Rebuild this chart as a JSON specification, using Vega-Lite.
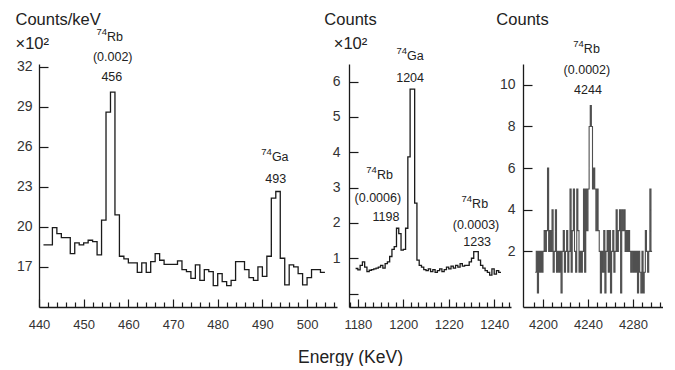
{
  "$schema": "https://vega.github.io/schema/vega-lite/v6.json",
  "autosize": {"type": "pad"},
  "padding": {"left": 15, "top": 11, "right": 0, "bottom": 0},
  "background": "white",
  "spacing": 12,
  "bounds": "flush",
  "config": {
    "view": {"stroke": null},
    "font": "Liberation Sans",
    "axis": {"grid": false, "domainColor": "#1a1a1a", "tickColor": "#1a1a1a", "domainWidth": 1.3, "tickWidth": 1.2, "labelColor": "#333", "labelFont": "Liberation Sans", "titleFont": "Liberation Sans", "titleColor": "#222", "titleFontWeight": "normal", "labelFlush": false}
  },
  "datasets": {
    "p1": [
      {"E": 441, "v": 18.65}, {"E": 442, "v": 18.65}, {"E": 443, "v": 19.95}, {"E": 444, "v": 19.5}, {"E": 445, "v": 19.2}, {"E": 446, "v": 19.2}, {"E": 447, "v": 18.0}, {"E": 448, "v": 18.8}, {"E": 449, "v": 18.65}, {"E": 450, "v": 18.8}, {"E": 451, "v": 19.0}, {"E": 452, "v": 18.9}, {"E": 453, "v": 17.9}, {"E": 454, "v": 20.5}, {"E": 455, "v": 28.6}, {"E": 456, "v": 30.1}, {"E": 457, "v": 20.9}, {"E": 458, "v": 17.8}, {"E": 459, "v": 17.6}, {"E": 460, "v": 17.3}, {"E": 461, "v": 17.3}, {"E": 462, "v": 16.6}, {"E": 463, "v": 17.3}, {"E": 464, "v": 16.6}, {"E": 465, "v": 17.4}, {"E": 466, "v": 18.0}, {"E": 467, "v": 17.5}, {"E": 468, "v": 17.2}, {"E": 469, "v": 17.2}, {"E": 470, "v": 17.2}, {"E": 471, "v": 17.45}, {"E": 472, "v": 16.8}, {"E": 473, "v": 16.65}, {"E": 474, "v": 16.15}, {"E": 475, "v": 17.15}, {"E": 476, "v": 16.0}, {"E": 477, "v": 16.8}, {"E": 478, "v": 16.65}, {"E": 479, "v": 15.6}, {"E": 480, "v": 16.5}, {"E": 481, "v": 15.9}, {"E": 482, "v": 15.6}, {"E": 483, "v": 16.0}, {"E": 484, "v": 17.4}, {"E": 485, "v": 17.4}, {"E": 486, "v": 16.8}, {"E": 487, "v": 16.2}, {"E": 488, "v": 16.0}, {"E": 489, "v": 17.0}, {"E": 490, "v": 16.3}, {"E": 491, "v": 17.8}, {"E": 492, "v": 22.15}, {"E": 493, "v": 22.65}, {"E": 494, "v": 17.65}, {"E": 495, "v": 15.65}, {"E": 496, "v": 17.15}, {"E": 497, "v": 17.0}, {"E": 498, "v": 16.5}, {"E": 499, "v": 15.65}, {"E": 500, "v": 16.2}, {"E": 501, "v": 16.8}, {"E": 502, "v": 16.8}, {"E": 503, "v": 16.6}, {"E": 504, "v": 16.6}
    ],
    "p2": [
      {"E": 1179, "v": 0.71}, {"E": 1180, "v": 0.67}, {"E": 1181, "v": 0.8}, {"E": 1182, "v": 0.9}, {"E": 1183, "v": 0.75}, {"E": 1184, "v": 0.62}, {"E": 1185, "v": 0.66}, {"E": 1186, "v": 0.68}, {"E": 1187, "v": 0.7}, {"E": 1188, "v": 0.72}, {"E": 1189, "v": 0.75}, {"E": 1190, "v": 0.8}, {"E": 1191, "v": 0.72}, {"E": 1192, "v": 0.85}, {"E": 1193, "v": 0.9}, {"E": 1194, "v": 1.05}, {"E": 1195, "v": 1.25}, {"E": 1196, "v": 1.33}, {"E": 1197, "v": 1.85}, {"E": 1198, "v": 1.7}, {"E": 1199, "v": 1.23}, {"E": 1200, "v": 1.25}, {"E": 1201, "v": 1.85}, {"E": 1202, "v": 3.87}, {"E": 1203, "v": 5.79}, {"E": 1204, "v": 5.79}, {"E": 1205, "v": 2.56}, {"E": 1206, "v": 0.95}, {"E": 1207, "v": 0.8}, {"E": 1208, "v": 0.75}, {"E": 1209, "v": 0.68}, {"E": 1210, "v": 0.65}, {"E": 1211, "v": 0.7}, {"E": 1212, "v": 0.62}, {"E": 1213, "v": 0.68}, {"E": 1214, "v": 0.6}, {"E": 1215, "v": 0.65}, {"E": 1216, "v": 0.7}, {"E": 1217, "v": 0.62}, {"E": 1218, "v": 0.68}, {"E": 1219, "v": 0.75}, {"E": 1220, "v": 0.7}, {"E": 1221, "v": 0.78}, {"E": 1222, "v": 0.72}, {"E": 1223, "v": 0.8}, {"E": 1224, "v": 0.75}, {"E": 1225, "v": 0.85}, {"E": 1226, "v": 0.78}, {"E": 1227, "v": 0.8}, {"E": 1228, "v": 0.8}, {"E": 1229, "v": 0.9}, {"E": 1230, "v": 1.0}, {"E": 1231, "v": 1.19}, {"E": 1232, "v": 1.19}, {"E": 1233, "v": 0.95}, {"E": 1234, "v": 0.8}, {"E": 1235, "v": 0.72}, {"E": 1236, "v": 0.65}, {"E": 1237, "v": 0.6}, {"E": 1238, "v": 0.52}, {"E": 1239, "v": 0.7}, {"E": 1240, "v": 0.55}, {"E": 1241, "v": 0.65}, {"E": 1242, "v": 0.6}, {"E": 1243, "v": 0.6}
    ],
    "p3": [
      {"E": 4193, "v": 1}, {"E": 4194, "v": 2}, {"E": 4195, "v": 0}, {"E": 4196, "v": 2}, {"E": 4197, "v": 1}, {"E": 4198, "v": 2}, {"E": 4199, "v": 1}, {"E": 4200, "v": 2}, {"E": 4201, "v": 3}, {"E": 4202, "v": 2}, {"E": 4203, "v": 3}, {"E": 4204, "v": 6}, {"E": 4205, "v": 2}, {"E": 4206, "v": 3}, {"E": 4207, "v": 2}, {"E": 4208, "v": 4}, {"E": 4209, "v": 1}, {"E": 4210, "v": 2}, {"E": 4211, "v": 4}, {"E": 4212, "v": 1}, {"E": 4213, "v": 2}, {"E": 4214, "v": 1}, {"E": 4215, "v": 2}, {"E": 4216, "v": 0}, {"E": 4217, "v": 2}, {"E": 4218, "v": 3}, {"E": 4219, "v": 1}, {"E": 4220, "v": 2}, {"E": 4221, "v": 3}, {"E": 4222, "v": 1}, {"E": 4223, "v": 2}, {"E": 4224, "v": 5}, {"E": 4225, "v": 1}, {"E": 4226, "v": 3}, {"E": 4227, "v": 5}, {"E": 4228, "v": 2}, {"E": 4229, "v": 1}, {"E": 4230, "v": 5}, {"E": 4231, "v": 3}, {"E": 4232, "v": 1}, {"E": 4233, "v": 2}, {"E": 4234, "v": 1}, {"E": 4235, "v": 2}, {"E": 4236, "v": 5}, {"E": 4237, "v": 1}, {"E": 4238, "v": 5}, {"E": 4239, "v": 3}, {"E": 4240, "v": 5}, {"E": 4241, "v": 8}, {"E": 4242, "v": 9}, {"E": 4243, "v": 8}, {"E": 4244, "v": 5}, {"E": 4245, "v": 6}, {"E": 4246, "v": 5}, {"E": 4247, "v": 3}, {"E": 4248, "v": 5}, {"E": 4249, "v": 3}, {"E": 4250, "v": 2}, {"E": 4251, "v": 0}, {"E": 4252, "v": 2}, {"E": 4253, "v": 1}, {"E": 4254, "v": 3}, {"E": 4255, "v": 0}, {"E": 4256, "v": 2}, {"E": 4257, "v": 3}, {"E": 4258, "v": 1}, {"E": 4259, "v": 3}, {"E": 4260, "v": 0}, {"E": 4261, "v": 2}, {"E": 4262, "v": 3}, {"E": 4263, "v": 1}, {"E": 4264, "v": 2}, {"E": 4265, "v": 4}, {"E": 4266, "v": 2}, {"E": 4267, "v": 3}, {"E": 4268, "v": 4}, {"E": 4269, "v": 0}, {"E": 4270, "v": 4}, {"E": 4271, "v": 3}, {"E": 4272, "v": 4}, {"E": 4273, "v": 2}, {"E": 4274, "v": 3}, {"E": 4275, "v": 2}, {"E": 4276, "v": 3}, {"E": 4277, "v": 2}, {"E": 4278, "v": 1}, {"E": 4279, "v": 2}, {"E": 4280, "v": 1}, {"E": 4281, "v": 2}, {"E": 4282, "v": 1}, {"E": 4283, "v": 2}, {"E": 4284, "v": 0}, {"E": 4285, "v": 2}, {"E": 4286, "v": 1}, {"E": 4287, "v": 0}, {"E": 4288, "v": 2}, {"E": 4289, "v": 0}, {"E": 4290, "v": 1}, {"E": 4291, "v": 3}, {"E": 4292, "v": 2}, {"E": 4293, "v": 1}, {"E": 4294, "v": 2}, {"E": 4295, "v": 5}, {"E": 4296, "v": 2}, {"E": 4297, "v": 2}
    ],
    "a1": [
      {"E": 456.5, "v": 32.75, "t": "(0.002)"}, {"E": 456.3, "v": 31.2, "t": "456"}, {"E": 493.0, "v": 23.6, "t": "493"}
    ],
    "i1": [
      {"E": 455.9, "v": 34.2, "A": "74", "s": "Rb"}, {"E": 492.8, "v": 25.2, "A": "74", "s": "Ga"}
    ],
    "a2": [
      {"E": 1203, "v": 6.1, "t": "1204"},
      {"E": 1188.8, "v": 2.72, "t": "(0.0006)"}, {"E": 1192.4, "v": 2.17, "t": "1198"},
      {"E": 1232, "v": 1.94, "t": "(0.0003)"}, {"E": 1232.5, "v": 1.46, "t": "1233"}
    ],
    "i2": [
      {"E": 1203, "v": 6.73, "A": "74", "s": "Ga"}, {"E": 1189.7, "v": 3.36, "A": "74", "s": "Rb"}, {"E": 1231.6, "v": 2.54, "A": "74", "s": "Rb"}
    ],
    "a3": [
      {"E": 4239, "v": 10.7, "t": "(0.0002)"}, {"E": 4240, "v": 9.76, "t": "4244"}
    ],
    "i3": [
      {"E": 4239, "v": 11.7, "A": "74", "s": "Rb"}
    ]
  },
  "hconcat": [
    {
      "width": 298, "height": 243,
      "resolve": {"axis": {"x": "independent"}},
      "layer": [
        {
          "data": {"name": "p1"},
          "mark": {"type": "line", "interpolate": "step-after", "color": "#1a1a1a", "strokeWidth": 1.3},
          "encoding": {
            "x": {"field": "E", "type": "quantitative", "scale": {"domain": [440, 506.7], "nice": false, "zero": false},
              "axis": {"orient": "bottom", "values": [440, 450, 460, 470, 480, 490, 500], "format": "d", "tickSize": -8, "labelPadding": 19, "labelFontSize": 13, "title": null}},
            "y": {"field": "v", "type": "quantitative", "scale": {"domain": [14, 32.2], "nice": false, "zero": false},
              "axis": {"values": [17, 20, 23, 26, 29, 32], "tickSize": -9, "labelPadding": 16, "labelFontSize": 14,
                "title": ["Counts/keV", "×10²"], "titleAngle": 0, "titleAlign": "left", "titleBaseline": "alphabetic", "titleX": -24, "titleY": -40, "titleFontSize": 16.5, "titleLineHeight": 24}}
          }
        },
        {
          "data": {"name": "a1"},
          "mark": {"type": "text", "fontSize": 12.5, "color": "#222", "baseline": "middle", "align": "center"},
          "encoding": {
            "x": {"field": "E", "type": "quantitative",
              "axis": {"orient": "bottom", "values": [442,444,446,448,452,454,456,458,462,464,466,468,472,474,476,478,482,484,486,488,492,494,496,498,502,504,506], "labels": false, "domain": false, "tickSize": -5, "title": null}},
            "y": {"field": "v", "type": "quantitative"}, "text": {"field": "t"}}
        },
        {
          "data": {"name": "i1"},
          "mark": {"type": "text", "fontSize": 12.5, "color": "#222", "baseline": "middle", "align": "left", "dx": -3},
          "encoding": {"x": {"field": "E", "type": "quantitative", "axis": null}, "y": {"field": "v", "type": "quantitative"}, "text": {"field": "s"}}
        },
        {
          "data": {"name": "i1"},
          "mark": {"type": "text", "fontSize": 9.5, "color": "#222", "baseline": "middle", "align": "right", "dx": -3, "dy": -5},
          "encoding": {"x": {"field": "E", "type": "quantitative", "axis": null}, "y": {"field": "v", "type": "quantitative"}, "text": {"field": "A"}}
        }
      ]
    },
    {
      "width": 162, "height": 243,
      "resolve": {"axis": {"x": "independent"}},
      "layer": [
        {
          "data": {"name": "p2"},
          "mark": {"type": "line", "interpolate": "step-after", "color": "#1a1a1a", "strokeWidth": 1.3},
          "encoding": {
            "x": {"field": "E", "type": "quantitative", "scale": {"domain": [1176.1, 1247.4], "nice": false, "zero": false},
              "axis": {"orient": "bottom", "values": [1180, 1200, 1220, 1240], "format": "d", "tickSize": -8, "labelPadding": 19, "labelFontSize": 13,
                "title": "Energy (KeV)", "titleFontSize": 17.5, "titleAlign": "center", "titleBaseline": "alphabetic", "titleX": 1, "titleY": 55}},
            "y": {"field": "v", "type": "quantitative", "scale": {"domain": [-0.38, 6.5], "nice": false, "zero": false},
              "axis": {"values": [0, 1, 2, 3, 4, 5, 6], "labelExpr": "datum.value === 0 ? '' : datum.label", "tickSize": -9, "labelPadding": 18, "labelFontSize": 14,
                "title": ["Counts", "×10²"], "titleAngle": 0, "titleAlign": "center", "titleBaseline": "alphabetic", "titleX": 1, "titleY": -40, "titleFontSize": 16.5, "titleLineHeight": 24}}
          }
        },
        {
          "data": {"name": "a2"},
          "mark": {"type": "text", "fontSize": 12.5, "color": "#222", "baseline": "middle", "align": "center"},
          "encoding": {
            "x": {"field": "E", "type": "quantitative",
              "axis": {"orient": "bottom", "values": [1176.667,1183.333,1186.667,1190,1193.333,1196.667,1203.333,1206.667,1210,1213.333,1216.667,1223.333,1226.667,1230,1233.333,1236.667,1243.333,1246.667], "labels": false, "domain": false, "tickSize": -5, "title": null}},
            "y": {"field": "v", "type": "quantitative"}, "text": {"field": "t"}}
        },
        {
          "data": {"name": "i2"},
          "mark": {"type": "text", "fontSize": 12.5, "color": "#222", "baseline": "middle", "align": "left", "dx": -3},
          "encoding": {"x": {"field": "E", "type": "quantitative", "axis": null}, "y": {"field": "v", "type": "quantitative"}, "text": {"field": "s"}}
        },
        {
          "data": {"name": "i2"},
          "mark": {"type": "text", "fontSize": 9.5, "color": "#222", "baseline": "middle", "align": "right", "dx": -3, "dy": -5},
          "encoding": {"x": {"field": "E", "type": "quantitative", "axis": null}, "y": {"field": "v", "type": "quantitative"}, "text": {"field": "A"}}
        }
      ]
    },
    {
      "width": 140, "height": 243,
      "resolve": {"axis": {"x": "independent"}},
      "layer": [
        {
          "data": {"name": "p3"},
          "mark": {"type": "line", "interpolate": "step-after", "color": "#505050", "strokeWidth": 1.1},
          "encoding": {
            "x": {"field": "E", "type": "quantitative", "scale": {"domain": [4182.2, 4306.7], "nice": false, "zero": false},
              "axis": {"orient": "bottom", "values": [4200, 4240, 4280], "format": "d", "tickSize": -8, "labelPadding": 19, "labelFontSize": 13, "title": null}},
            "y": {"field": "v", "type": "quantitative", "scale": {"domain": [-0.67, 11.0], "nice": false, "zero": false},
              "axis": {"values": [2, 4, 6, 8, 10], "tickSize": -9, "labelPadding": 17, "labelFontSize": 14,
                "title": "Counts", "titleAngle": 0, "titleAlign": "center", "titleBaseline": "alphabetic", "titleX": -1, "titleY": -40, "titleFontSize": 16.5}}
          }
        },
        {
          "data": {"name": "a3"},
          "mark": {"type": "text", "fontSize": 12.5, "color": "#222", "baseline": "middle", "align": "center"},
          "encoding": {
            "x": {"field": "E", "type": "quantitative",
              "axis": {"orient": "bottom", "values": [4192,4208,4216,4224,4232,4248,4256,4264,4272,4288,4296,4304], "labels": false, "domain": false, "tickSize": -5, "title": null}},
            "y": {"field": "v", "type": "quantitative"}, "text": {"field": "t"}}
        },
        {
          "data": {"name": "i3"},
          "mark": {"type": "text", "fontSize": 12.5, "color": "#222", "baseline": "middle", "align": "left", "dx": -3},
          "encoding": {"x": {"field": "E", "type": "quantitative", "axis": null}, "y": {"field": "v", "type": "quantitative"}, "text": {"field": "s"}}
        },
        {
          "data": {"name": "i3"},
          "mark": {"type": "text", "fontSize": 9.5, "color": "#222", "baseline": "middle", "align": "right", "dx": -3, "dy": -5},
          "encoding": {"x": {"field": "E", "type": "quantitative", "axis": null}, "y": {"field": "v", "type": "quantitative"}, "text": {"field": "A"}}
        }
      ]
    }
  ]
}
